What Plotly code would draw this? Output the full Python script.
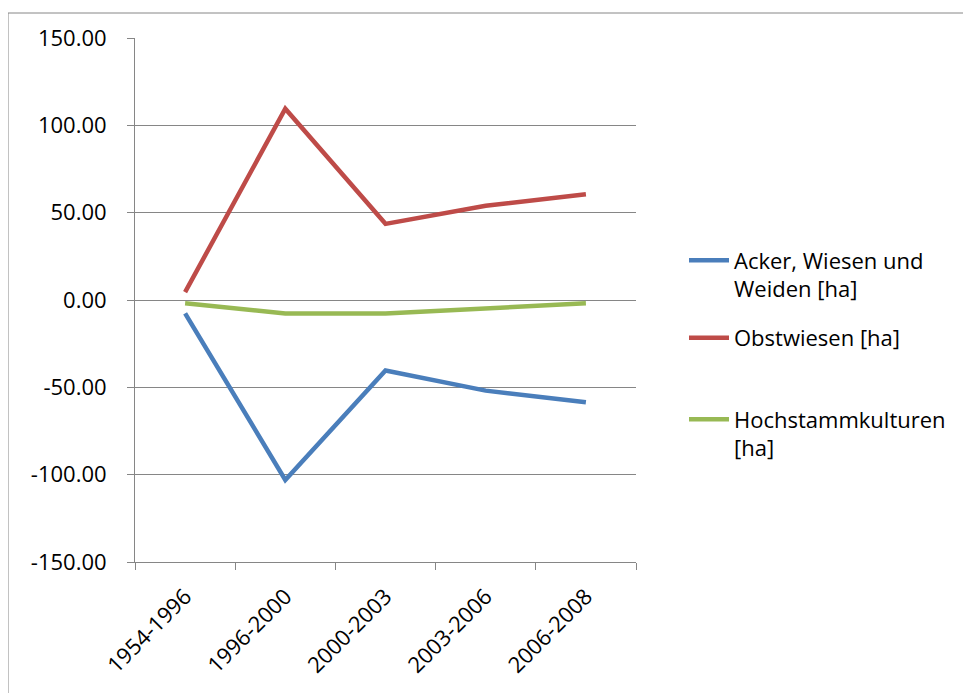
import plotly.graph_objects as go

categories = ["1954-1996", "1996-2000", "2000-2003", "2003-2006", "2006-2008"]
acker = [-7.7, -103.0, -40.4, -51.9, -58.6]
obstwiesen = [4.5, 109.5, 43.6, 53.9, 60.5]
hochstamm = [-1.9, -7.7, -7.7, -4.8, -1.9]
y_ticks = [-150, -100, -50, 0, 50, 100, 150]
y_ticktext = [f"{v:.2f}" for v in y_ticks]

names = ["Acker, Wiesen und<br>Weiden [ha]", "Obstwiesen [ha]", "Hochstammkulturen<br>[ha]"]
colors = ["#4A7EBB", "#BE4B48", "#98B954"]
series = [acker, obstwiesen, hochstamm]
legends = ["legend", "legend2", "legend3"]

FONT = "Open Sans, Lato, sans-serif"
FS = 22
fig = go.Figure()
for s, n, c, lg in zip(series, names, colors, legends):
    fig.add_trace(go.Scatter(x=categories, y=s, name=n, mode="lines",
                             line=dict(color=c, width=4.5), legend=lg))

OFF = 8  # page body margin
W, H = 971, 693
# target screen positions of plot area: x 135..636, y 38..562
L = 135 - OFF
R = W - (636 - OFF)
T = 38 - OFF
B = H - (562 - OFF)
pw, ph = W - L - R, H - T - B

def px(x):
    return (x - OFF - L) / pw

def py(y):
    return (H - B - (y - OFF)) / ph

legend_common = dict(font=dict(family=FONT, size=FS, color="#000000"),
                     bgcolor="rgba(0,0,0,0)", xanchor="left", yanchor="middle",
                     itemwidth=40, tracegroupgap=0, valign="top")
fig.update_layout(
    showlegend=True,
    legend=dict(x=px(684), y=py(275), **legend_common),
    legend2=dict(x=px(684), y=py(338), **legend_common),
    legend3=dict(x=px(684), y=py(434), **legend_common),
)

fig.update_layout(
    width=W, height=H,
    margin=dict(l=L, r=R, t=T, b=B),
    paper_bgcolor="white", plot_bgcolor="white",
    font=dict(family=FONT, size=FS, color="#000000"),
    xaxis=dict(type="category", showgrid=False, showline=True, linecolor="#868686",
               linewidth=1, ticks="outside", tickson="boundaries", ticklen=7,
               tickcolor="#868686", tickangle=-45, range=[-0.5, 4.5],
               ticklabelstandoff=12,
               tickfont=dict(family=FONT, size=FS)),
    yaxis=dict(range=[-150, 150], tickvals=y_ticks, ticktext=y_ticktext,
               showgrid=True, gridcolor="#868686", gridwidth=1,
               showline=True, linecolor="#868686", linewidth=1,
               ticks="outside", ticklen=7, tickcolor="#868686",
               zeroline=False, ticklabelstandoff=16,
               tickfont=dict(family=FONT, size=FS)),
    shapes=[dict(type="rect", xref="paper", yref="paper",
                 x0=px(8), y0=py(760), x1=px(1100), y1=py(13),
                 line=dict(color="#868686", width=1), fillcolor="rgba(0,0,0,0)",
                 layer="below")],
)

fig.write_html("out.html")
